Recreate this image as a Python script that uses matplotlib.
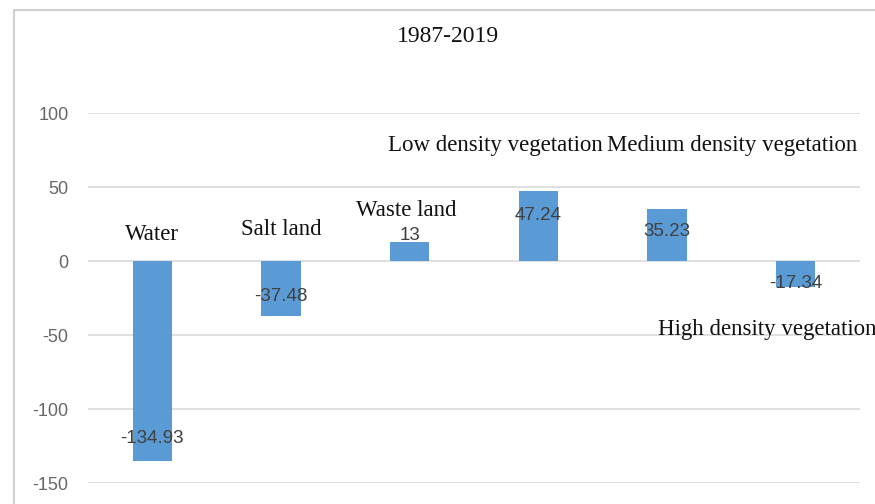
import matplotlib.pyplot as plt
from matplotlib.patches import Rectangle

# data
categories = ['Water', 'Salt land', 'Waste land', 'Low density vegetation',
              'Medium density vegetation', 'High density vegetation']
changes = [-134.93, -37.48, 13, 47.24, 35.23, -17.34]
value_labels = ['-134.93', '-37.48', '13', '47.24', '35.23', '-17.34']
y_ticks = [-150, -100, -50, 0, 50, 100]

# where the category names and value labels sit (x in category units, y in data units)
name_x = [0.0, 1.0, 1.97, 2.67, 4.51, 3.93]
name_y = [18, 21, 34, 78, 78, -46]
name_ha = ['center', 'center', 'center', 'center', 'center', 'left']
value_y = [-119.6, -24.3, 17, 31, 19.6, -15.5]

bar_color = '#5B9BD5'
grid_color = '#D9D9D9'

fig = plt.figure(figsize=(8.75, 5.04), dpi=100)
ax = fig.add_axes([88 / 875, 1 - 483 / 504, 772 / 875, 370 / 504])

x = list(range(len(categories)))
ax.bar(x, changes, width=0.305, color=bar_color, zorder=2)

ax.set_xlim(-0.5, len(categories) - 0.5)
ax.set_ylim(-150, 100)
ax.set_yticks(y_ticks)
ax.set_yticklabels([str(t) for t in y_ticks], fontsize=13, color='#666666',
                   family='Liberation Sans')
ax.set_xticks([])
ax.tick_params(axis='y', length=0, pad=14)
for s in ax.spines.values():
    s.set_visible(False)
for t in y_ticks:
    ax.axhline(t, color=grid_color, lw=1.2, zorder=1)

serif = 'Liberation Serif'
for i, name in enumerate(categories):
    ax.text(name_x[i], name_y[i], name, ha=name_ha[i], va='center',
            fontsize=16.5, family=serif, color='#111111', zorder=3, clip_on=False)
    ax.text(i, value_y[i], value_labels[i], ha='center', va='center',
            fontsize=13.5, family='Liberation Sans', color='#404040', zorder=3)

fig.text(448 / 875, 1 - 36 / 504, '1987-2019', ha='center', va='center',
         fontsize=17, family=serif, color='#111111')

# chart frame
fig.patches.append(Rectangle((14 / 875, -0.05), 1.0, 1 - 10 / 504 + 0.05,
                             transform=fig.transFigure, fill=False,
                             edgecolor='#D0D0D0', lw=1.5))

fig.savefig('out.png', dpi=100)
